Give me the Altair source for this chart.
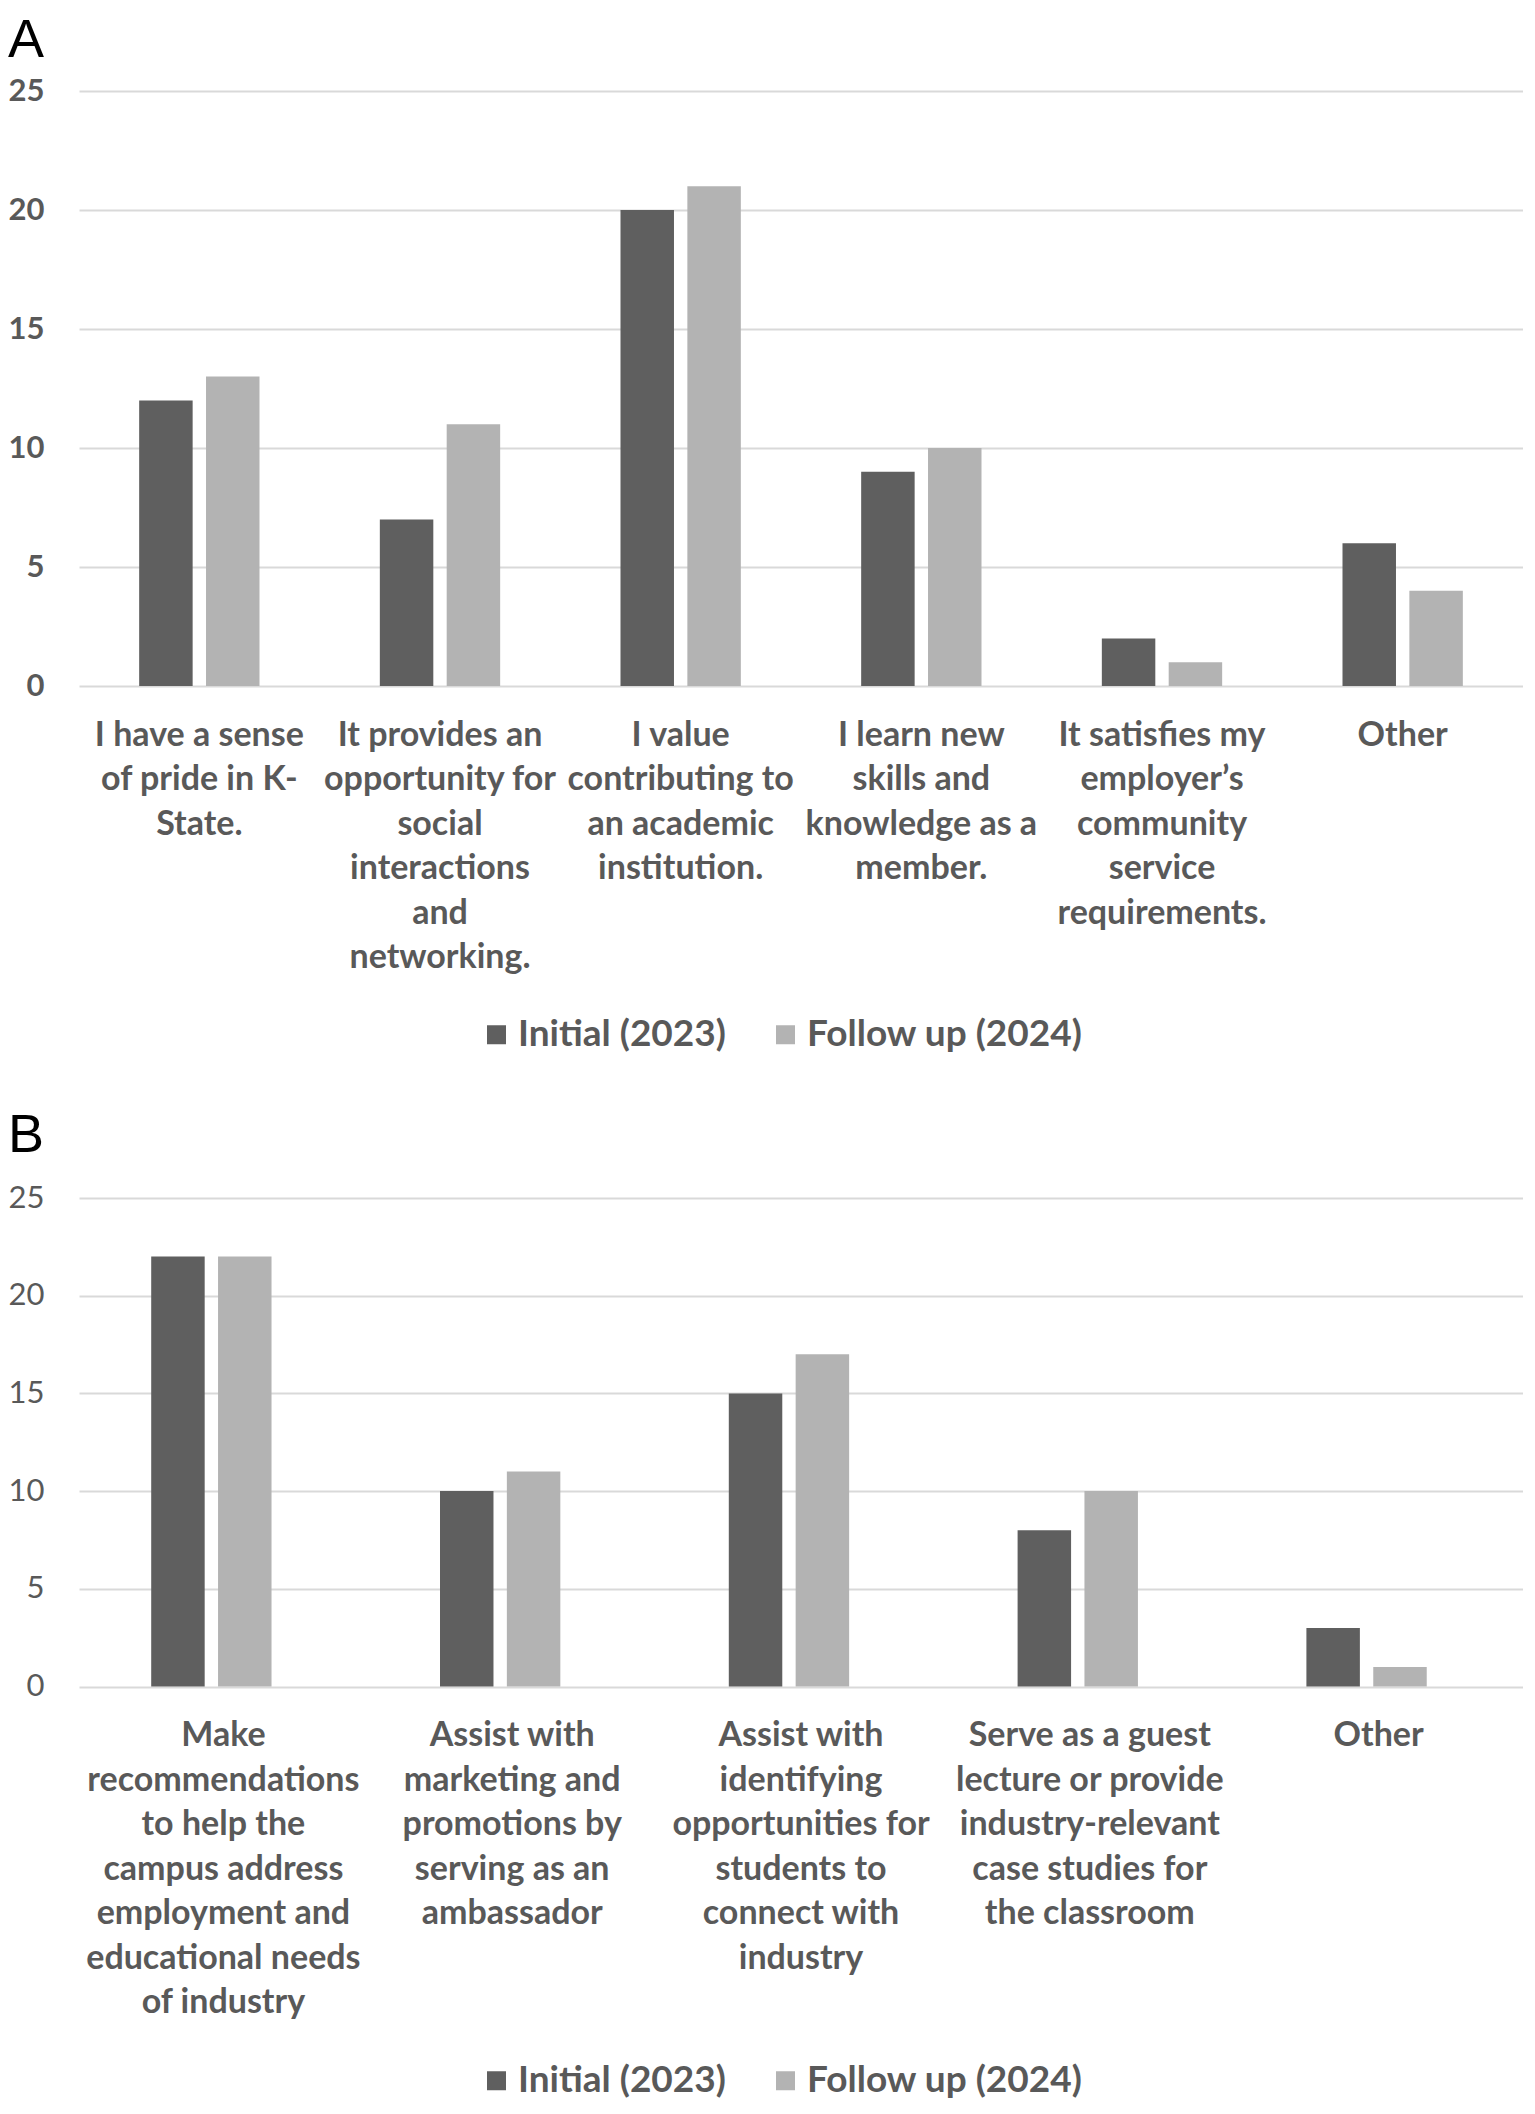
import altair as alt
import pandas as pd

# ---- data ----
cats_a = [
    "I have a sense|of pride in K-|State.",
    "It provides an|opportunity for|social|interactions|and|networking.",
    "I value|contributing to|an academic|institution.",
    "I learn new|skills and|knowledge as a|member.",
    "It satisfies my|employer\u2019s|community|service|requirements.",
    "Other",
]
initial_a = [12, 7, 20, 9, 2, 6]
follow_a = [13, 11, 21, 10, 1, 4]

cats_b = [
    "Make|recommendations|to help the|campus address|employment and|educational needs|of industry",
    "Assist with|marketing and|promotions by|serving as an|ambassador",
    "Assist with|identifying|opportunities for|students to|connect with|industry",
    "Serve as a guest|lecture or provide|industry-relevant|case studies for|the classroom",
    "Other",
]
initial_b = [22, 10, 15, 8, 3]
follow_b = [22, 11, 17, 10, 1]

series = ["Initial (2023)", "Follow up (2024)"]
colors = ["#5f5f5f", "#b3b3b3"]
y_ticks = [0, 5, 10, 15, 20, 25]

FONT = "Lato"
TXT = "#595959"
W = 1444


def make_df(cats, init, foll):
    rows = []
    for c, a, b in zip(cats, init, foll):
        rows.append({"cat": c, "series": series[0], "value": a})
        rows.append({"cat": c, "series": series[1], "value": b})
    return pd.DataFrame(rows)


def panel(cats, init, foll, letter, height, tick_weight, legend_y, title_offset):
    df = make_df(cats, init, foll)
    return alt.Chart(df).mark_bar().encode(
        x=alt.X(
            "cat:N",
            sort=cats,
            title=None,
            scale=alt.Scale(paddingInner=0.5, paddingOuter=0.25),
            axis=alt.Axis(
                labelExpr="split(datum.value, '|')",
                labelAngle=0,
                labelAlign="center",
                labelBaseline="top",
                labelFont=FONT,
                labelFontSize=34,
                labelFontWeight="bold",
                labelColor=TXT,
                labelLineHeight=44.5,
                labelPadding=32,
                labelLimit=1000,
                labelOverlap=False,
                ticks=False,
                tickSize=0,
                domain=False,
                grid=False,
            ),
        ),
        xOffset=alt.XOffset(
            "series:N", sort=series, scale=alt.Scale(paddingInner=0.2, paddingOuter=0)
        ),
        y=alt.Y(
            "value:Q",
            title=None,
            scale=alt.Scale(domain=[0, 25], nice=False, zero=True),
            axis=alt.Axis(
                values=y_ticks,
                labelFont=FONT,
                labelFontSize=31,
                labelFontWeight=tick_weight,
                labelColor=TXT,
                labelPadding=35,
                ticks=False,
                tickSize=0,
                domain=False,
                grid=True,
                gridColor="#d9d9d9",
                gridWidth=2,
            ),
        ),
        color=alt.Color(
            "series:N",
            sort=series,
            scale=alt.Scale(domain=series, range=colors),
            legend=alt.Legend(
                title=None,
                orient="none",
                legendX=399,
                legendY=legend_y,
                direction="horizontal",
                symbolType="square",
                symbolSize=361,
                symbolStrokeWidth=0,
                labelFont=FONT,
                labelFontSize=37,
                labelFontWeight="bold",
                labelColor=TXT,
                labelOffset=3,
                columnPadding=41,
                padding=0,
                labelLimit=1000,
            ),
        ),
    ).properties(
        width=W,
        height=height,
        title=alt.TitleParams(
            letter,
            anchor="start",
            frame="bounds",
            font="Liberation Sans",
            fontSize=54,
            fontWeight="normal",
            color="black",
            offset=title_offset,
        ),
    )


pa = panel(cats_a, initial_a, follow_a, "A", 595, "bold", 925, 7)
pb = panel(cats_b, initial_b, follow_b, "B", 488.5, "normal", 864, 19.5)

chart = (
    alt.vconcat(pa, pb, spacing=55)
    .properties(padding={"top": 6, "left": 0, "right": 0, "bottom": 0})
    .resolve_scale(color="independent", x="independent")
    .configure(font=FONT, view=alt.ViewConfig(stroke=None))
)

chart.save("out.html", embed_options={"renderer": "svg", "actions": False})
